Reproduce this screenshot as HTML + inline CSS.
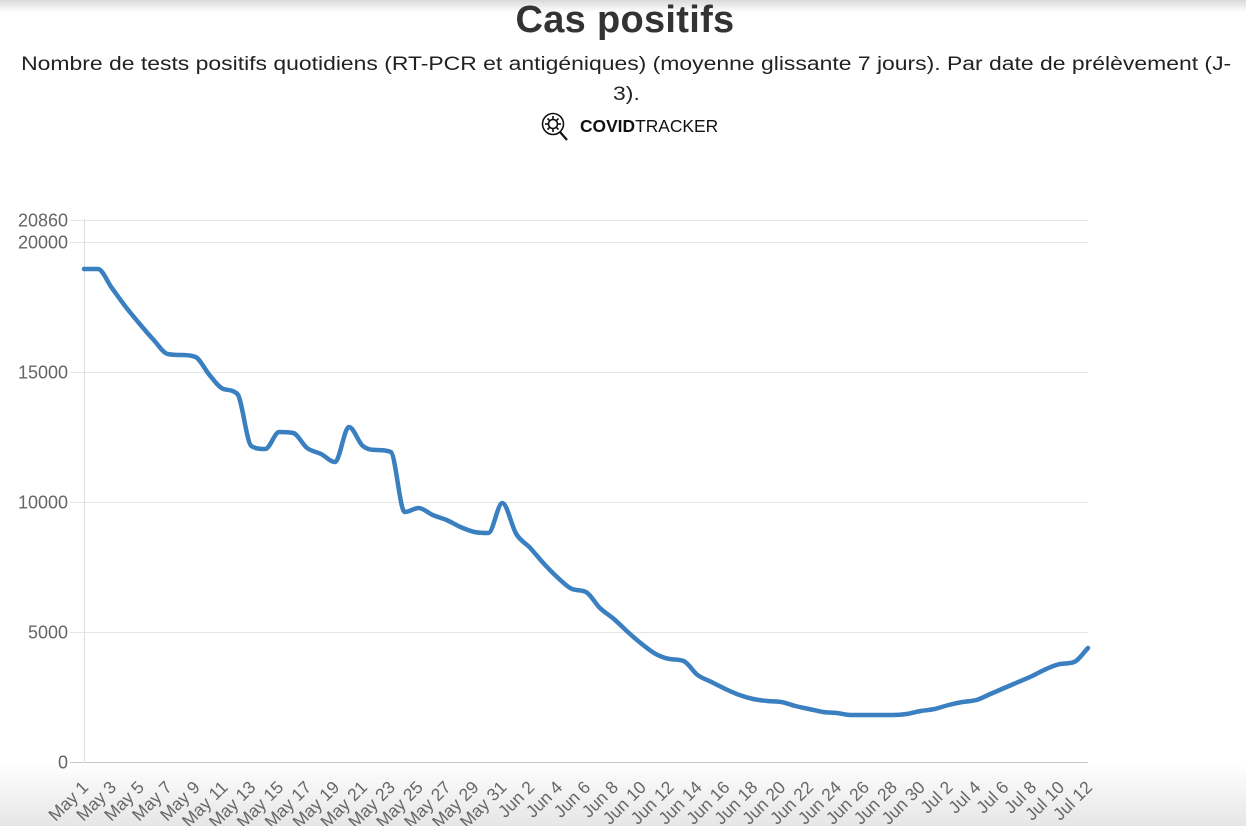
<!DOCTYPE html>
<html>
<head>
<meta charset="utf-8">
<style>
html,body{margin:0;padding:0;}
body{width:1246px;height:826px;overflow:hidden;position:relative;background:#fff;font-family:"Liberation Sans",Arial,sans-serif;}
.topshade{position:absolute;left:0;top:0;width:1246px;height:12px;background:linear-gradient(#d9d9d9,#ffffff);}
.botshade{position:absolute;left:0;top:762px;width:1246px;height:64px;background:linear-gradient(rgba(255,255,255,0),#e6e6e6);}
.title{position:absolute;left:0;top:-1px;width:1250px;text-align:center;font-size:38px;font-weight:bold;color:#333;letter-spacing:0.3px;}
.sub{position:absolute;left:0;width:1252px;text-align:center;font-size:19.6px;color:#222;white-space:nowrap;}
.sub span{display:inline-block;transform:scaleX(1.17);transform-origin:50% 50%;}
.logo{position:absolute;left:580px;top:116px;font-size:17.4px;color:#111;white-space:nowrap;}
svg{position:absolute;left:0;top:0;}
</style>
</head>
<body>
<div class="topshade"></div>
<div class="botshade"></div>
<div class="title">Cas positifs</div>
<div class="sub" style="top:53px;"><span>Nombre de tests positifs quotidiens (RT-PCR et antigéniques) (moyenne glissante 7 jours). Par date de prélèvement (J-</span></div>
<div class="sub" style="top:83px;"><span>3).</span></div>
<div class="logo"><b>COVID</b>TRACKER</div>
<svg width="1246" height="826" viewBox="0 0 1246 826" id="chart">
  <g fill="none" stroke="#111" stroke-width="1.6">
    <circle cx="553" cy="124" r="10.5"/>
    <circle cx="553" cy="124" r="4.5"/>
    <line x1="560" y1="132" x2="567" y2="140" stroke-width="2.2"/>
    <line x1="553" y1="116" x2="553" y2="119"/>
    <line x1="553" y1="129" x2="553" y2="132"/>
    <line x1="545" y1="124" x2="548" y2="124"/>
    <line x1="558" y1="124" x2="561" y2="124"/>
    <line x1="547.5" y1="118.5" x2="549.5" y2="120.5"/>
    <line x1="556.5" y1="127.5" x2="558.5" y2="129.5"/>
    <line x1="558.5" y1="118.5" x2="556.5" y2="120.5"/>
    <line x1="547.5" y1="129.5" x2="549.5" y2="127.5"/>
  </g>
  <g id="grid" stroke="#e6e6e6" stroke-width="1"></g>
  <g id="ylabels" font-family="Liberation Sans, Arial, sans-serif" font-size="18" fill="#666" text-anchor="end"></g>
  <g id="xlabels" font-family="Liberation Sans, Arial, sans-serif" font-size="17.5" fill="#666" text-anchor="end"></g>
  <path id="line" fill="none" stroke="#3a7fc0" stroke-width="4.5" stroke-linejoin="round" stroke-linecap="round"/>
</svg>
<script>
(function(){
  var NS="http://www.w3.org/2000/svg";
  var x0=84,x1=1088,yz=762,k=0.026;
  var grid=document.getElementById('grid');
  function ln(g,a,b,c,d,col){var l=document.createElementNS(NS,'line');l.setAttribute('x1',a);l.setAttribute('y1',b);l.setAttribute('x2',c);l.setAttribute('y2',d);if(col)l.setAttribute('stroke',col);g.appendChild(l);}
  var ticks=[20860,20000,15000,10000,5000,0];
  var yl=document.getElementById('ylabels');
  ticks.forEach(function(v){
    var y=Math.round(yz-v*k)+0.5;
    ln(grid,70,y,x1,y,v===0?'#c8c8c8':null);
    var t=document.createElementNS(NS,'text');
    t.setAttribute('x',68);t.setAttribute('y',y+6);t.textContent=v;yl.appendChild(t);
  });
  ln(grid,84.5,219,84.5,763,'#dcdcdc');
  var step=(x1-x0)/72;
  var xl=document.getElementById('xlabels');
  for(var i=0;i<=72;i+=2){
    var lab;
    if(i<=30)lab='May '+(i+1);else if(i<=60)lab='Jun '+(i-30);else lab='Jul '+(i-60);
    var x=x0+i*step;
    var t=document.createElementNS(NS,'text');
    t.setAttribute('transform','translate('+(x+1)+',784) rotate(-45)');
    t.setAttribute('dy','0.35em');
    t.textContent=lab;xl.appendChild(t);
  }
  var ys=[269,269,288,307,324,340,354,355,357,375,389,394,446,449,432,433,448,454,462,427,446,450,452,512,508,515,520,527,532,533,503,534,548,564,578,589,592,608,619,632,644,654,659,661,675,682,689,695,699,701,702,706,709,712,713,715,715,715,715,714,711,709,705,702,700,694,688,682,676,669,664,662,648];
  var n=ys.length;
  var xs=ys.map(function(_,i){return x0+i*step;});
  var dl=[],m=[];
  for(var i=0;i<n-1;i++)dl.push((ys[i+1]-ys[i])/step);
  m[0]=dl[0];m[n-1]=dl[n-2];
  for(var i=1;i<n-1;i++){m[i]=(dl[i-1]*dl[i]<=0)?0:(dl[i-1]+dl[i])/2;}
  for(var i=0;i<n-1;i++){
    if(dl[i]===0){m[i]=0;m[i+1]=0;continue;}
    var a=m[i]/dl[i],b=m[i+1]/dl[i],s=a*a+b*b;
    if(s>9){var tt=3/Math.sqrt(s);m[i]=tt*a*dl[i];m[i+1]=tt*b*dl[i];}
  }
  var d='M'+xs[0].toFixed(1)+' '+ys[0];
  for(var i=0;i<n-1;i++){
    var h=step/3;
    d+=' C'+(xs[i]+h).toFixed(1)+' '+(ys[i]+m[i]*h).toFixed(1)+' '+(xs[i+1]-h).toFixed(1)+' '+(ys[i+1]-m[i+1]*h).toFixed(1)+' '+xs[i+1].toFixed(1)+' '+ys[i+1];
  }
  document.getElementById('line').setAttribute('d',d);
})();
</script>
</body>
</html>
